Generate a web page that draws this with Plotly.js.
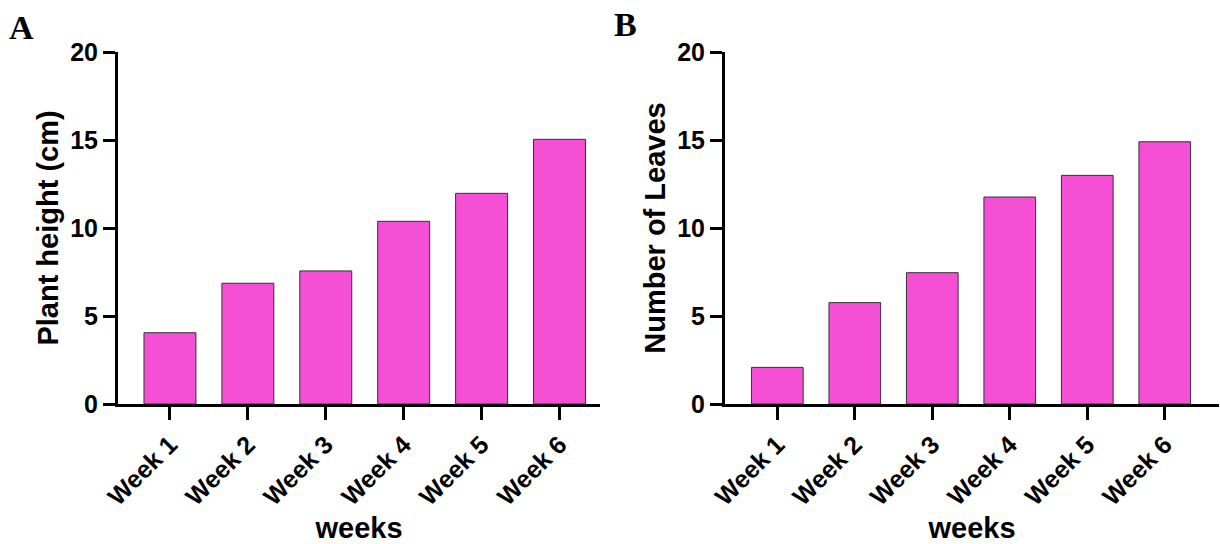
<!DOCTYPE html>
<html>
<head>
<meta charset="utf-8">
<script src="https://cdn.plot.ly/plotly-3.0.1.min.js"></script>
<style>
  html, body { margin: 0; padding: 0; background: #ffffff; }
  #chart { width: 1220px; height: 544px; }
</style>
</head>
<body>
<div id="chart"></div>
<script>
// ---- data ----
const weeks = ['Week 1', 'Week 2', 'Week 3', 'Week 4', 'Week 5', 'Week 6'];
const plantHeight = [4.05, 6.86, 7.56, 10.38, 11.97, 15.04];
const leafCount = [2.08, 5.76, 7.46, 11.76, 12.99, 14.9];
const yTickVals = [0, 5, 10, 15, 20];
const panelLabels = ['A', 'B'];
const xTitle = 'weeks';
const yTitleA = 'Plant height (cm)';
const yTitleB = 'Number of Leaves';

// ---- styles ----
const barFill = '#F54FD5';
const barLine = '#333333';
const sansBold = 'Arial, "Liberation Sans", sans-serif';
const tickFont = { family: sansBold, size: 25, color: '#000', weight: 'bold' };
const titleFont = { family: sansBold, size: 29, color: '#000', weight: 'bold' };

const W = 1220, H = 544;
const yDomain = [1 - 404 / H, 1 - 52 / H];

function xAxis(domain, range) {
  return {
    domain: domain,
    range: range,
    type: 'category',
    showline: true, linewidth: 3, linecolor: '#000',
    ticks: 'outside', ticklen: 13, tickwidth: 3, tickcolor: '#000',
    tickangle: -45,
    tickfont: tickFont,
    showgrid: false, zeroline: false,
    fixedrange: true,
    automargin: false,
    title: { text: xTitle, font: titleFont, standoff: 12 }
  };
}
function yAxis(anchor, title) {
  return {
    domain: yDomain,
    range: [0, 20],
    anchor: anchor,
    tickvals: yTickVals,
    showline: true, linewidth: 3, linecolor: '#000',
    ticks: 'outside', ticklen: 12, tickwidth: 3, tickcolor: '#000',
    tickfont: tickFont,
    showgrid: false, zeroline: false,
    fixedrange: true,
    automargin: false,
    title: { text: title, font: titleFont, standoff: 4 }
  };
}

const traces = [
  {
    type: 'bar', x: weeks, y: plantHeight, xaxis: 'x', yaxis: 'y',
    marker: { color: barFill, line: { color: barLine, width: 1 } },
    hoverinfo: 'x+y', showlegend: false
  },
  {
    type: 'bar', x: weeks, y: leafCount, xaxis: 'x2', yaxis: 'y2',
    marker: { color: barFill, line: { color: barLine, width: 1 } },
    hoverinfo: 'x+y', showlegend: false
  }
];

const layout = {
  width: W, height: H,
  margin: { l: 0, r: 0, t: 0, b: 0, pad: 0 },
  paper_bgcolor: '#ffffff', plot_bgcolor: 'rgba(0,0,0,0)',
  bargap: 0.333,
  showlegend: false,
  xaxis: Object.assign(xAxis([118 / W, 600 / W], [-0.667, 5.52]), { anchor: 'y' }),
  yaxis: yAxis('x', yTitleA),
  xaxis2: Object.assign(xAxis([725 / W, 1219 / W], [-0.675, 5.7]), { anchor: 'y2' }),
  yaxis2: yAxis('x2', yTitleB),
  annotations: [
    { text: panelLabels[0], xref: 'paper', yref: 'paper', x: 21 / W, y: 1 - 27 / H,
      xanchor: 'center', yanchor: 'middle', showarrow: false,
      font: { family: '"Times New Roman", "Liberation Serif", serif', size: 34, color: '#000', weight: 'bold' } },
    { text: panelLabels[1], xref: 'paper', yref: 'paper', x: 625 / W, y: 1 - 25 / H,
      xanchor: 'center', yanchor: 'middle', showarrow: false,
      font: { family: '"Times New Roman", "Liberation Serif", serif', size: 34, color: '#000', weight: 'bold' } }
  ]
};

Plotly.newPlot('chart', traces, layout, { displayModeBar: false, staticPlot: true });
</script>
</body>
</html>
